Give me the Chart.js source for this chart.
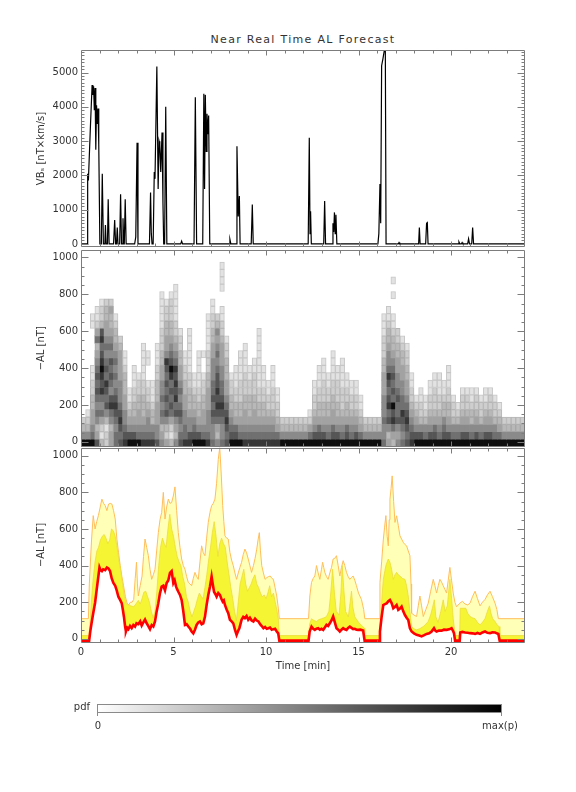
<!DOCTYPE html>
<html lang="en">
<head>
<meta charset="UTF-8" />
<title>Near Real Time AL Forecast</title>
<script src="https://cdn.jsdelivr.net/npm/chart.js@4.4.1/dist/chart.umd.min.js"></script>
<style>
  html, body { margin: 0; padding: 0; background: #fff; }
  body { position: relative; width: 576px; height: 792px; overflow: hidden;
         font-family: "DejaVu Sans", sans-serif; color: #333; }
  canvas { position: absolute; left: 0; top: 0; }
  .txt { position: absolute; font-size: 10px; line-height: 12px; white-space: nowrap; }
  #title { position: absolute; left: 0; top: 33px; width: 606px; text-align: center;
           font-size: 11px; letter-spacing: 1.3px; }
  #cbar { position: absolute; left: 97px; top: 704px; width: 403px; height: 7px;
          border: 1px solid #8a8a8a; background: linear-gradient(to right, #ffffff, #000000); }
  .cbtick { position: absolute; top: 713px; width: 1px; height: 3px; background: #8a8a8a; }
</style>
</head>
<body>
<div id="title">Near Real Time AL Forecast</div>
<canvas id="vb" width="576" height="792"></canvas>
<canvas id="pdf" width="576" height="792"></canvas>
<canvas id="al" width="576" height="792"></canvas>
<div id="cbar"></div>
<div class="cbtick" style="left:97px"></div>
<div class="cbtick" style="left:501px"></div>
<div class="txt" style="left:50px; top:701px; width:40px; text-align:right">pdf</div>
<div class="txt" style="left:88px; top:720px; width:20px; text-align:center">0</div>
<div class="txt" style="left:470px; top:720px; width:60px; text-align:center">max(p)</div>
<script>
// ---- axis ticks
const timeTicks = [0, 5, 10, 15, 20];
const vbTicks = [0, 1000, 2000, 3000, 4000, 5000];
const alTicks = [0, 200, 400, 600, 800, 1000];

// ---- top panel: VBs [nT x km/s]
const vbTime = [
  0, 0.33, 0.36, 0.40, 0.50, 0.60, 0.64, 0.68, 0.72, 0.76,
  0.80, 0.84, 0.88, 0.92, 0.96, 1.02, 1.10, 1.15, 1.21, 1.29,
  1.32, 1.36, 1.43, 1.47, 1.52, 1.76, 1.82, 1.87, 1.92, 1.96,
  2.00, 2.09, 2.14, 2.19, 2.24, 2.27, 2.31, 2.34, 2.39, 2.44,
  2.90, 2.96, 3.03, 3.08, 3.70, 3.76, 3.80, 3.84, 3.90, 3.96,
  4.00, 4.10, 4.17, 4.22, 4.26, 4.31, 4.38, 4.43, 4.47, 4.52,
  4.58, 4.64, 5.39, 5.44, 5.49, 6.11, 6.18, 6.25, 6.58, 6.64,
  6.68, 6.72, 6.77, 6.81, 6.86, 6.90, 6.96, 8.00, 8.05, 8.10,
  8.38, 8.43, 8.50, 8.56, 8.60, 9.20, 9.26, 9.31, 12.28, 12.34,
  12.38, 12.41, 12.45, 13.12, 13.17, 13.22, 13.58, 13.62, 13.66, 13.70,
  13.74, 13.78, 13.83, 16.05, 16.10, 16.16, 16.20, 16.25, 16.32, 16.40,
  16.45, 16.49, 17.15, 17.19, 17.23, 18.25, 18.29, 18.33, 18.63, 18.68,
  18.72, 18.76, 20.38, 20.43, 20.48, 20.56, 20.60, 20.64, 20.90, 20.95,
  21.00, 21.12, 21.17, 21.22, 24
];
const vbValue = [
  0, 0, 2050, 1850, 3300, 4640, 4350, 4600, 3900, 4550,
  2750, 4050, 3500, 3950, 2900, 0, 0, 2050, 0, 0,
  550, 0, 0, 1300, 0, 0, 700, 0, 0, 480,
  0, 0, 1450, 0, 0, 750, 0, 0, 1300, 0,
  0, 200, 2950, 0, 0, 1500, 300, 0, 0, 2100,
  1900, 5180, 1600, 3000, 2900, 2100, 3250, 1200, 0, 0,
  4000, 0, 0, 80, 0, 0, 4280, 0, 0, 4380,
  1600, 4350, 2700, 3800, 3200, 3750, 0, 0, 130, 0,
  0, 2850, 800, 1400, 0, 0, 1150, 0, 0, 3100,
  300, 950, 0, 0, 1250, 0, 0, 600, 350, 920,
  300, 850, 0, 0, 300, 1750, 600, 5200, 5400, 5660,
  5660, 0, 0, 40, 0, 0, 480, 0, 0, 600,
  620, 0, 0, 60, 0, 0, 40, 0, 0, 150,
  0, 0, 480, 0, 0
];

// ---- middle panel: pdf of -AL, one string per 0.25 min column,
// one digit per 40 nT bin from -25 nT upward (0 = empty, 9 = max)
const pdfTimeStep = 0.25;
const pdfAlStart = -25;
const pdfAlStep = 40;
const pdfColumns = [
  "9532", "95321", "965443322110000011", "7435656767654364211",
  "31246568789876873221", "22135767867656544332", "44356875676756543342", "665678765656543321",
  "767876555444432", "8765544333211", "97543211", "97543322111",
  "9654433221", "86543332211111", "8655432210011", "865332111",
  "75544433322111", "543565655443322211111", "42357676767854433221", "312467676897654332221",
  "5345768787865432211111", "7656765654433221", "8665544332211", "8755433322111111",
  "9765433211", "9754332211111", "9654433221001", "865554443322211111",
  "65567676655544332211", "534678787765654532", "6556787665544432211001111", "767876544333221",
  "9765433221", "97643322111", "9654332221111", "86544332221111",
  "86543332211", "865443322211", "8654332211111111", "86543322111",
  "865432211", "86543222111", "86432211", "9532",
  "9532", "9532", "9532", "9532",
  "9532", "96421", "975432211", "97643322111",
  "975433222111", "9654332211", "9764433221111", "97543322211",
  "965432221111", "9764332211", "965432211", "975432211",
  "9643211", "9532", "9532", "9532",
  "9532", "655655544433222111", "4357687678655433211", "34687967676543321100101",
  "5457667655443322", "656786655443321", "76787654433221", "8765432211",
  "9754321", "97532211", "9653211", "975432211",
  "9764322211", "9654322111", "976533211", "97543322111",
  "9653221", "965321", "97543221", "97543221",
  "96533211", "97543221", "9653221", "97543211",
  "97543221", "9653221", "964321", "9532",
  "9532", "9532", "9532", "9532"
];

// ---- bottom panel: forecast -AL [nT]
const redTime = [
  0, 0.44, 0.5, 0.57, 0.66, 0.76, 0.85, 0.95, 1.0, 1.06,
  1.13, 1.2, 1.31, 1.4, 1.48, 1.57, 1.66, 1.75, 1.85, 1.93,
  2.02, 2.1, 2.2, 2.26, 2.32, 2.38, 2.43, 2.5, 2.56, 2.65,
  2.74, 2.83, 2.92, 3.0, 3.1, 3.2, 3.28, 3.37, 3.46, 3.55,
  3.64, 3.73, 3.82, 3.91, 4.0, 4.09, 4.18, 4.27, 4.36, 4.45,
  4.54, 4.63, 4.72, 4.81, 4.9, 4.99, 5.06, 5.14, 5.2, 5.26,
  5.35, 5.44, 5.53, 5.62, 5.71, 5.8, 5.9, 5.98, 6.07, 6.16,
  6.25, 6.34, 6.43, 6.52, 6.61, 6.7, 6.79, 6.88, 6.97, 7.06,
  7.12, 7.19, 7.26, 7.33, 7.42, 7.51, 7.58, 7.66, 7.72, 7.78,
  7.87, 7.96, 8.05, 8.14, 8.23, 8.32, 8.41, 8.48, 8.56, 8.62,
  8.68, 8.77, 8.86, 8.95, 9.04, 9.13, 9.22, 9.32, 9.41, 9.5,
  9.59, 9.68, 9.77, 9.86, 9.95, 10.04, 10.13, 10.22, 10.31, 10.4,
  10.49, 10.58, 10.66, 10.72, 12.3, 12.36, 12.46, 12.55, 12.64, 12.73,
  12.82, 12.91, 13.0, 13.09, 13.18, 13.27, 13.36, 13.45, 13.54, 13.63,
  13.72, 13.81, 13.9, 13.99, 14.08, 14.17, 14.26, 14.35, 14.44, 14.53,
  14.62, 14.71, 14.8, 14.89, 14.98, 15.1, 15.25, 15.33, 16.12, 16.16,
  16.25, 16.34, 16.43, 16.52, 16.61, 16.7, 16.79, 16.88, 16.97, 17.06,
  17.15, 17.24, 17.33, 17.42, 17.51, 17.6, 17.69, 17.78, 17.87, 18.0,
  18.14, 18.28, 18.41, 18.55, 18.68, 18.82, 18.95, 19.08, 19.15, 19.22,
  19.35, 19.49, 19.62, 19.76, 19.9, 20.03, 20.1, 20.16, 20.22, 20.47,
  20.5, 20.62, 20.76, 20.9, 21.03, 21.16, 21.3, 21.43, 21.57, 21.7,
  21.84, 21.97, 22.11, 22.24, 22.38, 22.47, 22.56, 22.63, 24
];
const redValue = [
  -10, -10, 40, 85, 140, 196, 270, 350, 390, 375,
  370, 380, 375, 390, 385, 370, 330, 305, 290, 265,
  230, 215, 195, 160, 121, 70, 40, 60, 53, 70,
  58, 75, 67, 85, 80, 95, 73, 90, 105, 85,
  70, 53, 75, 67, 95, 150, 195, 250, 285, 290,
  265, 305, 320, 360, 370, 305, 320, 285, 270, 257,
  240, 212, 150, 76, 80, 67, 55, 40, 30, 50,
  76, 90, 95, 80, 85, 120, 185, 240, 285, 340,
  300, 257, 245, 230, 250, 240, 220, 203, 210, 185,
  160, 140, 104, 95, 85, 50, 22, 40, 58, 80,
  104, 120, 113, 125, 104, 115, 100, 95, 110, 100,
  95, 80, 70, 58, 65, 55, 58, 62, 50, 53,
  55, 40, 30, -10, -10, 40, 67, 55, 49, 55,
  58, 50, 55, 49, 62, 76, 70, 85, 100, 122,
  90, 58, 50, 40, 50, 58, 52, 49, 60, 67,
  60, 53, 55, 50, 49, 50, 45, -10, -10, 40,
  120, 185, 190, 194, 205, 212, 195, 167, 175, 185,
  158, 165, 176, 150, 130, 115, 103, 58, 40, 30,
  22, 18, 13, 20, 27, 30, 40, 58, 45, 40,
  45, 45, 50, 49, 52, 58, 45, 31, -10, -10,
  35, 38, 35, 33, 31, 30, 27, 32, 27, 35,
  40, 33, 31, 36, 35, 30, 27, -10, -10
];
const yellowTime = [
  0, 0.44, 0.5, 0.57, 0.66, 0.76, 0.86, 0.95, 1.05, 1.15,
  1.25, 1.35, 1.45, 1.55, 1.65, 1.75, 1.85, 1.95, 2.05, 2.15,
  2.25, 2.35, 2.45, 2.55, 2.7, 2.85, 3.0, 3.1, 3.2, 3.3,
  3.4, 3.5, 3.6, 3.7, 3.8, 3.9, 4.0, 4.1, 4.2, 4.3,
  4.4, 4.5, 4.6, 4.7, 4.8, 4.9, 5.0, 5.1, 5.2, 5.3,
  5.4, 5.5, 5.6, 5.7, 5.8, 5.9, 6.0, 6.1, 6.2, 6.3,
  6.4, 6.5, 6.6, 6.7, 6.8, 6.9, 7.0, 7.1, 7.2, 7.3,
  7.4, 7.5, 7.6, 7.7, 7.8, 7.9, 8.0, 8.1, 8.2, 8.3,
  8.4, 8.5, 8.6, 8.7, 8.8, 8.9, 9.0, 9.1, 9.2, 9.3,
  9.4, 9.5, 9.6, 9.7, 9.8, 9.9, 10.0, 10.1, 10.2, 10.3,
  10.4, 10.5, 10.6, 10.68, 10.72, 12.3, 12.36, 12.46, 12.6, 12.73,
  12.86, 13.0, 13.14, 13.27, 13.4, 13.5, 13.6, 13.7, 13.8, 13.95,
  14.05, 14.12, 14.2, 14.3, 14.45, 14.55, 14.62, 14.7, 14.8, 15.0,
  15.2, 15.3, 15.34, 16.12, 16.16, 16.25, 16.34, 16.48, 16.61, 16.7,
  16.79, 16.88, 16.97, 17.06, 17.15, 17.24, 17.38, 17.51, 17.6, 17.69,
  17.78, 17.87, 18.0, 18.14, 18.3, 18.5, 18.64, 18.77, 18.9, 19.0,
  19.1, 19.18, 19.3, 19.45, 19.58, 19.68, 19.8, 19.94, 20.05, 20.12,
  20.2, 20.23, 20.47, 20.5, 20.8, 20.9, 21.03, 21.16, 21.3, 21.43,
  21.57, 21.7, 21.84, 21.97, 22.08, 22.16, 22.25, 22.38, 22.5, 22.6,
  22.64, 24
];
const yellowValue = [
  18, 18, 100, 213, 330, 420, 480, 500, 540, 560,
  570, 550, 520, 540, 600, 590, 560, 500, 430, 370,
  300, 230, 190, 185, 180, 175, 195, 210, 190, 220,
  255, 260, 230, 200, 150, 115, 150, 260, 400, 500,
  550, 520, 500, 600, 680, 600, 560, 500, 450, 420,
  400, 340, 300, 230, 200, 150, 120, 150, 180, 220,
  250, 230, 220, 280, 350, 430, 500, 580, 640, 560,
  450, 520, 550, 520, 500, 420, 350, 280, 220, 150,
  100, 200, 300, 340, 380, 300, 260, 280, 300, 330,
  350, 300, 280, 250, 230, 240, 220, 250, 290, 230,
  250, 200, 150, 100, 18, 18, 80, 110, 100, 95,
  105, 110, 115, 122, 150, 250, 380, 250, 150, 130,
  250, 400, 280, 150, 120, 200, 260, 170, 120, 90,
  70, 60, 18, 18, 67, 200, 325, 400, 436, 418,
  380, 325, 350, 363, 350, 343, 330, 325, 290, 234,
  150, 67, 55, 49, 55, 67, 80, 95, 130, 170,
  213, 120, 90, 150, 213, 150, 180, 325, 200, 110,
  40, 18, 18, 167, 167, 140, 122, 115, 110, 90,
  76, 90, 110, 150, 180, 140, 110, 95, 75, 67,
  18, 18
];
const outerTime = [
  0, 0.4, 0.45, 0.57, 0.66, 0.76, 0.85, 0.94, 1.04, 1.13,
  1.22, 1.31, 1.4, 1.49, 1.58, 1.67, 1.76, 1.85, 1.94, 2.03,
  2.12, 2.21, 2.3, 2.4, 2.49, 2.58, 2.67, 2.76, 2.85, 2.93,
  3.0, 3.05, 3.1, 3.2, 3.3, 3.38, 3.46, 3.55, 3.64, 3.73,
  3.82, 3.91, 4.0, 4.09, 4.18, 4.27, 4.36, 4.45, 4.54, 4.63,
  4.72, 4.81, 4.9, 4.99, 5.08, 5.17, 5.26, 5.35, 5.44, 5.53,
  5.62, 5.71, 5.8, 5.89, 5.98, 6.07, 6.16, 6.25, 6.34, 6.43,
  6.52, 6.61, 6.7, 6.79, 6.88, 6.97, 7.06, 7.15, 7.24, 7.33,
  7.42, 7.5, 7.58, 7.66, 7.72, 7.78, 7.87, 7.96, 8.05, 8.14,
  8.23, 8.32, 8.41, 8.5, 8.59, 8.68, 8.77, 8.86, 8.95, 9.04,
  9.13, 9.22, 9.32, 9.41, 9.5, 9.57, 9.64, 9.7, 9.77, 9.86,
  9.95, 10.05, 10.14, 10.23, 10.32, 10.4, 10.49, 10.58, 10.65, 10.72,
  12.3, 12.37, 12.46, 12.55, 12.64, 12.73, 12.82, 12.91, 13.0, 13.06,
  13.12, 13.18, 13.27, 13.36, 13.45, 13.54, 13.63, 13.72, 13.81, 13.9,
  13.99, 14.08, 14.17, 14.26, 14.35, 14.44, 14.53, 14.62, 14.71, 14.8,
  14.89, 15.0, 15.16, 15.28, 15.34, 16.12, 16.16, 16.25, 16.34, 16.41,
  16.48, 16.55, 16.61, 16.66, 16.7, 16.76, 16.82, 16.9, 16.97, 17.06,
  17.15, 17.24, 17.33, 17.42, 17.51, 17.6, 17.69, 17.78, 17.84, 17.87,
  18.0, 18.14, 18.23, 18.32, 18.41, 18.5, 18.64, 18.77, 18.9, 19.04,
  19.13, 19.22, 19.31, 19.4, 19.49, 19.58, 19.67, 19.76, 19.85, 19.94,
  20.03, 20.12, 20.21, 20.3, 20.48, 20.62, 20.76, 20.9, 21.03, 21.16,
  21.3, 21.43, 21.57, 21.7, 21.84, 21.97, 22.11, 22.24, 22.38, 22.48,
  22.56, 24
];
const outerValue = [
  110, 110, 300, 540, 673, 600, 640, 673, 720, 763,
  740, 727, 700, 736, 740, 736, 700, 654, 545, 470,
  400, 340, 290, 230, 195, 185, 200, 200, 215, 330,
  418, 300, 234, 290, 343, 450, 545, 500, 454, 380,
  325, 350, 380, 480, 580, 650, 690, 800, 654, 720,
  763, 740, 745, 780, 830, 700, 580, 500, 436, 400,
  380, 340, 308, 300, 290, 330, 363, 340, 325, 420,
  508, 470, 454, 550, 636, 690, 727, 740, 763, 850,
  980, 1045, 900, 727, 640, 563, 550, 545, 472, 430,
  400, 360, 325, 360, 390, 418, 460, 490, 470, 436,
  400, 363, 400, 440, 490, 540, 580, 480, 400, 360,
  325, 335, 340, 343, 330, 325, 280, 234, 180, 110,
  110, 234, 308, 330, 343, 400, 360, 325, 380, 418,
  390, 363, 340, 325, 360, 390, 436, 440, 454, 400,
  343, 390, 427, 400, 363, 340, 325, 335, 343, 320,
  290, 250, 215, 160, 110, 110, 308, 420, 540, 610,
  673, 560, 508, 650, 763, 820, 890, 750, 636, 672,
  620, 563, 545, 527, 515, 508, 480, 454, 300, 140,
  130, 122, 180, 234, 180, 122, 160, 195, 260, 325,
  290, 250, 290, 325, 310, 290, 270, 250, 320, 390,
  320, 250, 200, 175, 195, 205, 190, 185, 195, 230,
  260, 220, 180, 200, 215, 240, 260, 230, 195, 160,
  110, 110
];

// ---- styles
const grayLevels = ['#ffffff', '#e2e2e2', '#cecece', '#b8b8b8', '#a2a2a2',
                    '#8a8a8a', '#707070', '#555555', '#373737', '#0e0e0e'];
const grayEdges = ['#ffffff', '#c6c6c6', '#b6b6b6', '#a6a6a6', '#a2a2a2',
                   '#8a8a8a', '#707070', '#555555', '#373737', '#0e0e0e'];
const frameColor = '#7c7c7c';

Chart.defaults.font.family = "'DejaVu Sans', sans-serif";
Chart.defaults.font.size = 10;
Chart.defaults.color = '#333';

const pts = (xs, ys) => xs.map((x, i) => ({ x: x, y: ys[i] }));

// frame with inward ticks on all four sides (IDL style)
const framePlugin = {
  id: 'frame',
  afterDatasetsDraw(chart, args, opts) {
    const { ctx, chartArea: a, scales: { x, y } } = chart;
    const L = Math.round(a.left) + 0.5, R = Math.round(a.right) - 0.5;
    const T = Math.round(a.top) + 0.5, B = Math.round(a.bottom) - 0.5;
    ctx.save();
    ctx.strokeStyle = frameColor;
    ctx.lineWidth = 1;
    ctx.beginPath();
    ctx.rect(L, T, R - L, B - T);
    for (let t = 1; t < 24; t++) {
      const px = Math.round(x.getPixelForValue(t)) + 0.5;
      const len = t % 5 === 0 ? 5 : 3;
      ctx.moveTo(px, B); ctx.lineTo(px, B - len);
      ctx.moveTo(px, T); ctx.lineTo(px, T + len);
    }
    for (let v = Math.ceil(y.min / opts.minor) * opts.minor; v <= y.max; v += opts.minor) {
      const py = Math.round(y.getPixelForValue(v)) + 0.5;
      const len = v % opts.major === 0 ? 7 : 3;
      ctx.moveTo(L, py); ctx.lineTo(L + len, py);
      ctx.moveTo(R, py); ctx.lineTo(R - len, py);
    }
    ctx.stroke();
    ctx.restore();
  }
};

function xScale(showLabels) {
  return {
    type: 'linear', min: 0, max: 24, offset: false,
    afterBuildTicks: s => { s.ticks = timeTicks.map(v => ({ value: v })); },
    ticks: { display: showLabels, padding: 4, maxRotation: 0, autoSkip: false, callback: v => String(v) },
    grid: { display: false, drawTicks: false },
    border: { display: false },
    title: { display: showLabels, text: 'Time [min]', padding: { top: 0, bottom: 0 } },
    afterFit: s => { s.height = showLabels ? 30 : 10; }
  };
}

function yScale(min, max, ticks, title) {
  return {
    type: 'linear', min: min, max: max,
    afterBuildTicks: s => { s.ticks = ticks.map(v => ({ value: v })); },
    ticks: { padding: 3, callback: v => String(v) },
    grid: { display: false, drawTicks: false },
    border: { display: false },
    title: { display: true, text: title, padding: { top: 35, bottom: 0 } },
    afterFit: s => { s.width = 81; }
  };
}

function baseOptions(top, bottom, xAxisHeight) {
  return {
    responsive: false, animation: false, events: [],
    layout: { padding: { left: 0, right: 51, top: top, bottom: 792 - bottom - xAxisHeight } },
    plugins: { legend: { display: false }, tooltip: { enabled: false } }
  };
}

// ---- top: VBs
const vbOpts = baseOptions(50, 247, 10);
vbOpts.plugins.frame = { minor: 100, major: 1000 };
vbOpts.scales = { x: xScale(false), y: yScale(-90, 5660, vbTicks, 'VBₛ [nT×km/s]') };
new Chart(document.getElementById('vb'), {
  type: 'line',
  data: { datasets: [{
    data: pts(vbTime, vbValue), borderColor: '#000', borderWidth: 1.2,
    pointRadius: 0, tension: 0, fill: false
  }] },
  options: vbOpts,
  plugins: [framePlugin]
});

// ---- middle: pdf heat map as floating bars, one dataset per gray level
const cells = grayLevels.map(() => []);
pdfColumns.forEach((col, i) => {
  for (let r = 0; r < col.length; r++) {
    const lv = +col[r];
    if (lv > 0) {
      cells[lv].push({ x: pdfTimeStep * (i + 0.5),
                       y: [pdfAlStart + r * pdfAlStep, pdfAlStart + (r + 1) * pdfAlStep] });
    }
  }
});
const pdfOpts = baseOptions(250, 446.5, 10);
pdfOpts.plugins.frame = { minor: 50, major: 200 };
pdfOpts.scales = { x: xScale(false), y: yScale(-25, 1040, alTicks, '−AL [nT]') };
new Chart(document.getElementById('pdf'), {
  type: 'bar',
  data: { datasets: cells.map((c, lv) => ({
    data: c, backgroundColor: grayLevels[lv], borderColor: grayEdges[lv],
    borderWidth: lv <= 3 ? 1 : 0, borderSkipped: false,
    barPercentage: 1, categoryPercentage: 1, grouped: false
  })).filter(d => d.data.length) },
  options: pdfOpts,
  plugins: [framePlugin]
});

// ---- bottom: forecast bands
const alOpts = baseOptions(447.5, 642.5, 30);
alOpts.plugins.frame = { minor: 50, major: 200 };
alOpts.scales = { x: xScale(true), y: yScale(-20, 1045, alTicks, '−AL [nT]') };
new Chart(document.getElementById('al'), {
  type: 'line',
  data: { datasets: [
    { data: pts(redTime, redValue), borderColor: '#ff0000', borderWidth: 2.6,
      backgroundColor: '#ffffff', fill: 'start', pointRadius: 0, tension: 0 },
    { data: pts(yellowTime, yellowValue), borderColor: '#ecdc3c', borderWidth: 0.8,
      backgroundColor: '#f5f533', fill: 'start', pointRadius: 0, tension: 0 },
    { data: pts(outerTime, outerValue), borderColor: '#ffbe5c', borderWidth: 1,
      backgroundColor: '#ffffb8', fill: 'start', pointRadius: 0, tension: 0 }
  ] },
  options: alOpts,
  plugins: [framePlugin]
});
</script>
</body>
</html>
